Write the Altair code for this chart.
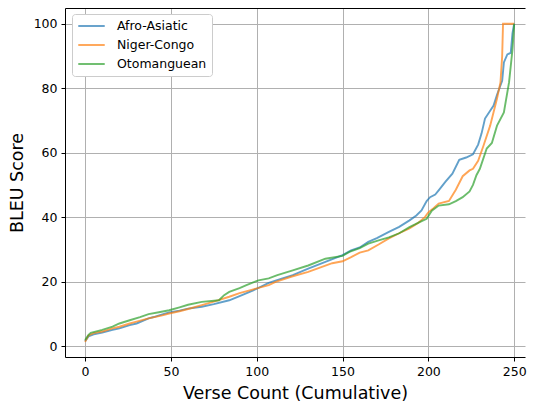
import altair as alt
import pandas as pd

series = ["Afro-Asiatic", "Niger-Congo", "Otomanguean"]
colors = ["#1f77b4", "#ff7f0e", "#2ca02c"]

afro_x = [0, 2, 5, 10, 16, 20, 26, 30, 37, 40, 45, 49, 55, 60, 68, 75, 84, 90, 98, 107,
          115, 121, 130, 140, 150, 155, 160, 165, 170, 177, 183, 189, 193, 196, 199, 201,
          204, 206, 210, 214, 218, 222, 226, 229, 231, 233, 236, 238, 240, 243, 244, 246,
          248, 249, 250]
afro_y = [1.5, 3.0, 3.6, 4.2, 5.0, 5.5, 6.5, 7.0, 8.6, 9.0, 9.8, 10.4, 11.0, 11.6, 12.2,
          13.0, 14.2, 15.5, 17.3, 19.6, 21.0, 22.0, 24.0, 26.1, 28.2, 29.7, 30.6, 32.3,
          33.5, 35.4, 37.0, 39.0, 40.5, 42.1, 45.0, 46.2, 47.0, 48.3, 51.0, 53.5, 57.8,
          58.5, 59.5, 62.5, 66.0, 70.6, 73.0, 74.6, 78.0, 82.3, 88.0, 90.5, 91.0, 97.0, 100.0]

niger_x = [0, 2, 5, 10, 16, 20, 26, 30, 37, 45, 49, 55, 60, 68, 75, 84, 90, 98, 107, 111,
           120, 130, 144, 150, 155, 160, 165, 171, 177, 183, 189, 194, 198, 200, 203, 206,
           212, 216, 220, 224, 226, 229, 232, 236, 240, 242, 243, 243.5, 250]
niger_y = [1.3, 3.3, 4.0, 4.5, 5.5, 6.0, 7.0, 7.6, 8.6, 9.5, 10.1, 10.8, 11.5, 12.7, 13.8,
           15.3, 16.4, 17.6, 18.9, 19.9, 21.5, 23.0, 25.7, 26.3, 27.6, 29.0, 29.7, 31.5,
           33.4, 35.0, 36.5, 38.2, 40.0, 41.5, 42.8, 44.2, 45.0, 48.5, 52.7, 54.5, 55.0,
           57.5, 62.0, 68.4, 76.8, 81.8, 90.0, 100.0, 100.0]

oto_x = [0, 2, 3.3, 10, 16, 20, 26, 32, 37, 43, 49, 55, 60, 68, 78, 81, 84, 90, 94, 101,
         107, 112, 121, 130, 140, 150, 154, 160, 165, 171, 177, 183, 189, 194, 199, 202,
         206, 212, 216, 220, 224, 226, 228, 230, 234, 237, 240, 244, 247, 249, 250]
oto_y = [1.9, 3.5, 4.1, 5.0, 6.0, 7.0, 8.0, 9.0, 9.9, 10.5, 11.1, 12.0, 12.8, 13.7, 14.2,
         15.8, 16.8, 18.0, 18.9, 20.4, 21.0, 22.0, 23.5, 25.0, 27.1, 28.0, 29.2, 30.4,
         31.8, 32.8, 33.7, 35.0, 36.9, 38.2, 39.5, 42.0, 43.6, 44.0, 45.0, 46.2, 48.0,
         50.0, 53.0, 55.0, 61.3, 63.0, 68.4, 72.5, 81.8, 92.0, 100.0]

x_ticks = [0, 50, 100, 150, 200, 250]
y_ticks = [0, 20, 40, 60, 80, 100]

rows = []
for name, xs, ys in [(series[0], afro_x, afro_y), (series[1], niger_x, niger_y),
                     (series[2], oto_x, oto_y)]:
    for i, (xv, yv) in enumerate(zip(xs, ys)):
        rows.append({"series": name, "verse": xv, "bleu": yv, "order": i})
df = pd.DataFrame(rows)

FONT = "DejaVu Sans"
x_scale = alt.Scale(domain=[-11.7, 256.3], nice=False, zero=False)
y_scale = alt.Scale(domain=[-3.4, 104.9], nice=False, zero=False)

lines = alt.Chart(df).mark_line(strokeWidth=1.9, opacity=0.7, clip=True).encode(
    x=alt.X("verse:Q", scale=x_scale,
            axis=alt.Axis(values=x_ticks, title="Verse Count (Cumulative)", format="d",
                          titleFontSize=17.5, titlePadding=7, labelFontSize=12.5,
                          labelPadding=4, tickSize=4)),
    y=alt.Y("bleu:Q", scale=y_scale,
            axis=alt.Axis(values=y_ticks, title="BLEU Score", format="d",
                          titleFontSize=17.5, titlePadding=7, labelFontSize=12.5,
                          labelPadding=4, tickSize=4)),
    color=alt.Color("series:N", scale=alt.Scale(domain=series, range=colors),
                    legend=alt.Legend(title=None, orient="none", legendX=7, legendY=6,
                                      fillColor="white", strokeColor="#cccccc",
                                      cornerRadius=3, padding=5, symbolType="stroke",
                                      symbolSize=700, symbolStrokeWidth=1.9,
                                      symbolOpacity=0.7, labelFontSize=12.5,
                                      labelOffset=11, rowPadding=5, clipHeight=14)),
    order="order:Q",
)

top = alt.Chart(df).mark_line(opacity=0).encode(
    x=alt.X("verse:Q", scale=x_scale,
            axis=alt.Axis(orient="top", labels=False, ticks=False, grid=False,
                          title=None, domainColor="black", domainWidth=1)),
    y=alt.Y("bleu:Q", scale=y_scale),
)

chart = alt.layer(lines, top).resolve_axis(x="independent").properties(
    width=460, height=349,
    padding={"left": 0, "top": 0, "right": 0, "bottom": 0},
).configure_view(stroke=None).configure_axis(
    labelFont=FONT, titleFont=FONT, labelColor="black", titleColor="black",
    titleFontWeight="normal", domainColor="black", tickColor="black",
    gridColor="#b0b0b0", gridWidth=1, domainWidth=1,
).configure_legend(labelFont=FONT, labelColor="black")

chart.save("out.html", embed_options={"renderer": "svg", "actions": False})
